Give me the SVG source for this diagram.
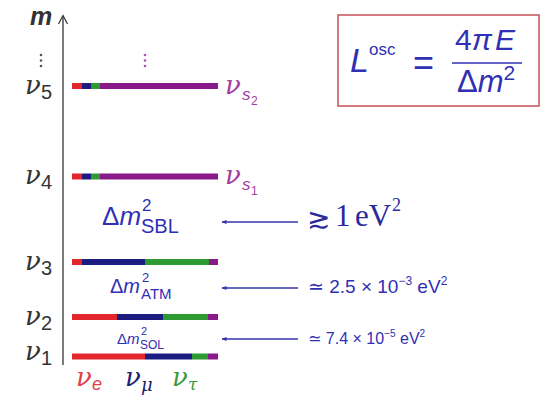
<svg xmlns="http://www.w3.org/2000/svg" width="541" height="398" viewBox="0 0 541 398">
<style>
.nu{font-family:"DejaVu Serif","Liberation Serif",serif;font-style:italic}
.sans{font-family:"Liberation Sans","DejaVu Sans",sans-serif}
.it{font-style:italic}
.blue{fill:#3030b4}
.dk{fill:#2a2a9a}
.lbl{fill:#333}
.purple{fill:#a23ca2}
.r{fill:#e3262c}.b{fill:#1c1c80}.g{fill:#2e9a32}.p{fill:#8a1a8a}
.arr{stroke:#3535a8;stroke-width:1.5;fill:none;marker-start:url(#ah)}
</style>
<defs>
<marker id="ah" viewBox="0 0 10 10" refX="1" refY="5" markerWidth="5" markerHeight="5" orient="auto" markerUnits="userSpaceOnUse">
<path d="M0,5 L10,1 L10,9 z" fill="#3535a8"/>
</marker>
</defs>
<rect width="541" height="398" fill="#fff"/>

<g id="axis">
<line x1="63" y1="16" x2="63" y2="365" stroke="#333" stroke-width="1.3"/>
<polyline points="58.5,24 63,15.5 67.5,24" fill="none" stroke="#333" stroke-width="1.2"/>
<text x="30" y="25" class="sans it" font-size="25" font-weight="bold" fill="#333">m</text>
<g fill="#555"><circle cx="41" cy="55" r="1.3"/><circle cx="41" cy="60.5" r="1.3"/><circle cx="41" cy="66" r="1.3"/></g>
<g fill="#b050b0"><circle cx="145" cy="55" r="1.3"/><circle cx="145" cy="60.5" r="1.3"/><circle cx="145" cy="66" r="1.3"/></g>
</g>

<g id="nu5">
<rect class="r" x="72" y="83" width="10" height="6"/><rect class="b" x="82" y="83" width="9" height="6"/><rect class="g" x="91" y="83" width="9" height="6"/><rect class="p" x="100" y="83" width="118" height="6"/>
<text class="lbl"><tspan x="25" y="94" class="nu" font-size="26">ν</tspan><tspan x="41" y="99" class="sans" font-size="20">5</tspan></text>
<text class="purple"><tspan x="225" y="94" class="nu" font-size="26">ν</tspan><tspan x="242" y="100" class="sans it" font-size="17">s</tspan><tspan x="251" y="105" class="sans" font-size="12">2</tspan></text>
</g>

<g id="nu4">
<rect class="r" x="72" y="173.5" width="10" height="6"/><rect class="b" x="82" y="173.5" width="9" height="6"/><rect class="g" x="91" y="173.5" width="9" height="6"/><rect class="p" x="100" y="173.5" width="118" height="6"/>
<text class="lbl"><tspan x="25" y="184" class="nu" font-size="26">ν</tspan><tspan x="41" y="189" class="sans" font-size="20">4</tspan></text>
<text class="purple"><tspan x="225" y="184" class="nu" font-size="26">ν</tspan><tspan x="242" y="190" class="sans it" font-size="17">s</tspan><tspan x="251" y="195" class="sans" font-size="12">1</tspan></text>
</g>

<g id="nu3">
<rect class="r" x="72" y="259" width="10" height="6"/><rect class="b" x="82" y="259" width="63" height="6"/><rect class="g" x="145" y="259" width="64" height="6"/><rect class="p" x="209" y="259" width="9" height="6"/>
<text class="lbl"><tspan x="25" y="270" class="nu" font-size="26">ν</tspan><tspan x="41" y="275" class="sans" font-size="20">3</tspan></text>
</g>

<g id="nu2">
<rect class="r" x="72" y="314" width="45" height="6"/><rect class="b" x="117" y="314" width="46" height="6"/><rect class="g" x="163" y="314" width="45" height="6"/><rect class="p" x="208" y="314" width="10" height="6"/>
<text class="lbl"><tspan x="25" y="325" class="nu" font-size="26">ν</tspan><tspan x="41" y="330" class="sans" font-size="20">2</tspan></text>
</g>

<g id="nu1">
<rect class="r" x="72" y="353.5" width="73" height="6"/><rect class="b" x="145" y="353.5" width="47" height="6"/><rect class="g" x="192" y="353.5" width="16" height="6"/><rect class="p" x="208" y="353.5" width="10" height="6"/>
<text class="lbl"><tspan x="25" y="360" class="nu" font-size="26">ν</tspan><tspan x="41" y="365" class="sans" font-size="20">1</tspan></text>
</g>

<g id="flavours">
<text fill="#e0404a"><tspan x="76" y="386" class="nu" font-size="26">ν</tspan><tspan x="92" y="390" class="sans it" font-size="18">e</tspan></text>
<text fill="#222272"><tspan x="125" y="386" class="nu" font-size="26">ν</tspan><tspan x="141" y="391" class="nu" font-size="18">μ</tspan></text>
<text fill="#3a9a3e"><tspan x="172" y="386" class="nu" font-size="26">ν</tspan><tspan x="188" y="390" class="nu" font-size="17">τ</tspan></text>
</g>

<g id="dm-sbl" class="blue">
<text class="sans"><tspan x="102" y="225" font-size="26">Δ</tspan><tspan class="it" font-size="26">m</tspan></text>
<text class="sans" x="142" y="211" font-size="17">2</text>
<text class="sans" x="141" y="233" font-size="20">SBL</text>
</g>

<g id="dm-atm" class="blue">
<text class="sans"><tspan x="110" y="293" font-size="20">Δ</tspan><tspan class="it" font-size="20">m</tspan></text>
<text class="sans" x="142" y="282" font-size="13">2</text>
<text class="sans" x="141" y="299" font-size="15">ATM</text>
</g>

<g id="dm-sol" class="blue">
<text class="sans"><tspan x="117" y="344" font-size="15">Δ</tspan><tspan class="it" font-size="15">m</tspan></text>
<text class="sans" x="141" y="335" font-size="11">2</text>
<text class="sans" x="140" y="349" font-size="12">SOL</text>
</g>

<g id="connectors">
<line class="arr" x1="222" y1="222" x2="298" y2="222"/>
<line class="arr" x1="222" y1="288" x2="298" y2="288"/>
<line class="arr" x1="222" y1="339" x2="298" y2="339"/>
</g>

<g id="val-sbl" class="dk">
<text x="307" y="228" font-family="DejaVu Sans,sans-serif" font-size="28">≳</text>
<text x="335" y="226" font-family="Liberation Serif,serif" font-size="31">1</text>
<text x="355" y="226" font-family="Liberation Serif,serif" font-size="31">eV</text>
<text x="392" y="211" font-family="Liberation Serif,serif" font-size="18">2</text>
</g>

<g id="val-atm" class="blue">
<text class="sans" y="293" font-size="19"><tspan x="308">≃ 2.5 × 10</tspan><tspan dy="-8" font-size="12">−3</tspan><tspan dy="8"> eV</tspan><tspan dy="-8" font-size="12">2</tspan></text>
</g>

<g id="val-sol" class="blue">
<text class="sans" y="344" font-size="16"><tspan x="308">≃ 7.4 × 10</tspan><tspan dy="-7" font-size="10">−5</tspan><tspan dy="7"> eV</tspan><tspan dy="-7" font-size="10">2</tspan></text>
</g>

<g id="formula">
<rect x="338" y="15" width="201" height="91" fill="#fff" stroke="#c8505a" stroke-width="1.5"/>
<text class="sans it blue" x="350" y="72" font-size="34">L</text>
<text class="sans blue" x="369" y="55" font-size="17">osc</text>
<text class="sans blue" x="413" y="75" font-size="36">=</text>
<text class="sans blue" x="485" y="50" font-size="30" text-anchor="middle"><tspan>4</tspan><tspan class="it">π</tspan><tspan class="it" dx="3">E</tspan></text>
<line x1="452" y1="63" x2="522" y2="63" stroke="#3030b4" stroke-width="1.5"/>
<text class="sans blue" x="457" y="92" font-size="31"><tspan>Δ</tspan><tspan class="it">m</tspan><tspan dy="-12" font-size="21">2</tspan></text>
</g>
</svg>
